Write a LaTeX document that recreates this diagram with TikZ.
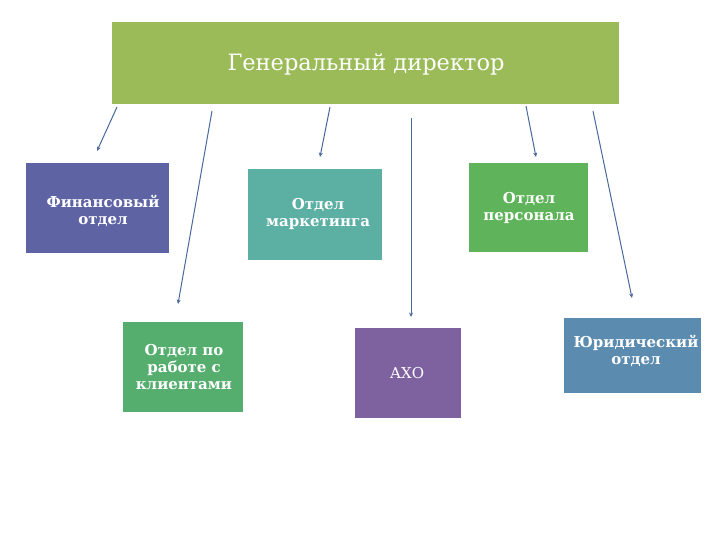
\documentclass[tikz,border=0pt]{standalone}
\usepackage{fontspec}
\setmainfont{DejaVu Serif}
\usetikzlibrary{arrows.meta}
\definecolor{cTop}{HTML}{9BBB59}
\definecolor{cFin}{HTML}{5E63A4}
\definecolor{cMkt}{HTML}{5BAFA3}
\definecolor{cPer}{HTML}{5FB35A}
\definecolor{cCli}{HTML}{55AE6E}
\definecolor{cAxo}{HTML}{7E62A0}
\definecolor{cLaw}{HTML}{5B8BAF}
\definecolor{cArr}{HTML}{4A6A9E}
\tikzset{
  dept/.style={inner sep=0pt, text=white, align=center, font=\bfseries\fontsize{15}{17}\selectfont},
  link/.style={draw=cArr, line width=1pt, -{Stealth[length=4.5pt,width=4pt]}}
}
\begin{document}
\begin{tikzpicture}[x=1pt,y=-1pt]
\useasboundingbox (0,0) rectangle (720,540);
\fill[white] (0,0) rectangle (720,540);
% boxes
\fill[cTop] (112,22) rectangle (619,104);
\node[text=white, font=\fontsize{22.5}{26}\selectfont] (gd) at (366,64) {Генеральный директор};
\fill[cFin] (26,163) rectangle (169,253);
\node[dept] (fin) at (103,211) {Финансовый\\отдел};
\fill[cMkt] (248,169) rectangle (382,260);
\node[dept] (mkt) at (318,214) {Отдел\\маркетинга};
\fill[cPer] (469,163) rectangle (588,252);
\node[dept] (per) at (529,208) {Отдел\\персонала};
\fill[cCli] (123,322) rectangle (243,412);
\node[dept] (cli) at (184,367) {Отдел по\\работе с\\клиентами};
\fill[cAxo] (355,328) rectangle (461,418);
\node[text=white, font=\fontsize{15}{17}\selectfont] (axo) at (407,373) {АХО};
\fill[cLaw] (564,318) rectangle (701,393);
\node[dept] (law) at (636,351) {Юридический\\отдел};
% arrow end points
\coordinate (s1) at (117,107); \coordinate (e1) at (97,151);
\coordinate (s2) at (212,111); \coordinate (e2) at (178,304);
\coordinate (s3) at (330,107); \coordinate (e3) at (320,157);
\coordinate (s4) at (411,118); \coordinate (e4) at (411,317);
\coordinate (s5) at (526,106); \coordinate (e5) at (536,157);
\coordinate (s6) at (593,111); \coordinate (e6) at (632,298);
\foreach \i in {1,...,6} \draw[link] (s\i) -- (e\i);
\end{tikzpicture}
\end{document}
